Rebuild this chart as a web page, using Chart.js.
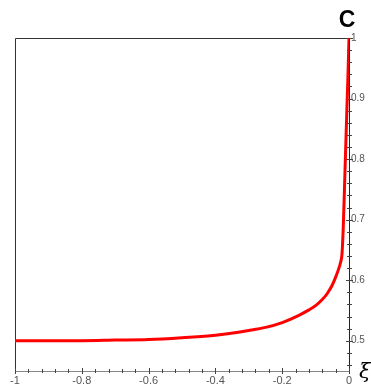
<!DOCTYPE html>
<html>
<head>
  <meta charset="UTF-8">
  <title>C(ξ)</title>
  <script src="https://cdn.jsdelivr.net/npm/chart.js"></script>
  <style>
    body { margin: 0; background: #fff; }
  </style>
</head>
<body>
  <canvas id="chart" width="371" height="389"></canvas>

  <script>
    // values
    const xi = [-1, -0.9, -0.8, -0.7, -0.6, -0.5, -0.4, -0.3, -0.25, -0.2, -0.15, -0.12, -0.1, -0.08, -0.065,
                -0.05, -0.04, -0.032, -0.025, -0.021, -0.017, -0.012, -0.007, -0.003, 0];
    const c  = [0.500, 0.500, 0.500, 0.501, 0.502, 0.505, 0.509, 0.517, 0.522, 0.530, 0.542, 0.551, 0.558, 0.568, 0.578,
                0.592, 0.605, 0.617, 0.630, 0.643, 0.690, 0.780, 0.870, 0.940, 1.000];

    const xTickLabels = [-1, -0.8, -0.6, -0.4, -0.2, 0];
    const yTickLabels = [0.5, 0.6, 0.7, 0.8, 0.9, 1];
    const xMinorStep = 0.04;
    const yMinorStep = 0.02;

    const isLabelled = (v, list) => list.some(t => Math.abs(t - v) < 1e-6);

    function minorTicks(min, max, step) {
      const out = [];
      const n = Math.round((max - min) / step);
      for (let i = 0; i <= n; i++) out.push({ value: Math.round((min + i * step) * 1000) / 1000 });
      return out;
    }

    // frame, crossing tick marks and axis names
    const decor = {
      id: 'decor',
      beforeDatasetsDraw(chart) {
        const { ctx, chartArea: a, scales: { x, y } } = chart;
        ctx.save();
        ctx.lineWidth = 1;
        ctx.strokeStyle = '#333';
        ctx.beginPath();
        ctx.moveTo(a.left + 0.5, a.bottom);
        ctx.lineTo(a.left + 0.5, a.top + 0.5);
        ctx.lineTo(a.right, a.top + 0.5);
        ctx.stroke();

        ctx.strokeStyle = '#444';
        ctx.beginPath();
        y.ticks.forEach(t => {
          const py = Math.round(y.getPixelForValue(t.value)) + 0.5;
          const len = isLabelled(t.value, yTickLabels) ? 3 : 2;
          ctx.moveTo(a.right - len, py);
          ctx.lineTo(a.right + len + 1, py);
        });
        x.ticks.forEach(t => {
          const px = Math.round(x.getPixelForValue(t.value)) + 0.5;
          const len = isLabelled(t.value, xTickLabels) ? 3 : 2;
          ctx.moveTo(px, a.bottom - len);
          ctx.lineTo(px, a.bottom + len);
        });
        ctx.stroke();
        ctx.restore();
      },
      afterDraw(chart) {
        const { ctx } = chart;
        ctx.save();
        ctx.fillStyle = '#000';
        ctx.font = 'bold 23px "Liberation Sans", Arial, sans-serif';
        ctx.textAlign = 'center';
        ctx.textBaseline = 'alphabetic';
        ctx.fillText('C', 347, 27);
        ctx.font = 'italic 21px "DejaVu Serif", serif';
        ctx.textAlign = 'left';
        ctx.fillText('ξ', 359, 378);
        ctx.restore();
      }
    };

    new Chart(document.getElementById('chart'), {
      type: 'line',
      data: {
        datasets: [{
          data: xi.map((v, i) => ({ x: v, y: c[i] })),
          borderColor: '#ff0000',
          borderWidth: 3,
          pointRadius: 0,
          fill: false,
          cubicInterpolationMode: 'monotone'
        }]
      },
      options: {
        responsive: false,
        animation: false,
        layout: { padding: { top: 38, left: 15, right: 0, bottom: 0 } },
        plugins: { legend: { display: false }, tooltip: { enabled: false } },
        scales: {
          x: {
            type: 'linear',
            min: -1,
            max: 0,
            grid: { display: false, drawTicks: false },
            border: { display: true, color: '#888', width: 1 },
            afterBuildTicks: s => { s.ticks = minorTicks(-1, 0, xMinorStep); },
            afterFit: s => { s.height = 18; },
            ticks: {
              autoSkip: false,
              maxRotation: 0,
              padding: 3,
              color: '#555',
              font: { family: '"Liberation Sans", Arial, sans-serif', size: 11 },
              callback: v => isLabelled(v, xTickLabels) ? String(Math.round(v * 10) / 10) : ''
            }
          },
          y: {
            type: 'linear',
            position: 'right',
            min: 0.45,
            max: 1,
            grid: { display: false, drawTicks: false },
            border: { display: true, color: '#222', width: 1 },
            afterBuildTicks: s => { s.ticks = minorTicks(0.46, 1, yMinorStep); },
            afterFit: s => { s.width = 22; },
            ticks: {
              autoSkip: false,
              padding: 2,
              color: '#555',
              font: { family: '"Liberation Sans", Arial, sans-serif', size: 10 },
              callback: v => isLabelled(v, yTickLabels) ? String(Math.round(v * 10) / 10) : ''
            }
          }
        }
      },
      plugins: [decor]
    });
  </script>
</body>
</html>
